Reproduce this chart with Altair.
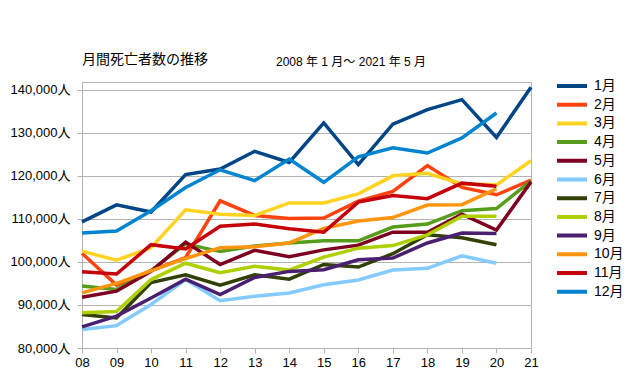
import altair as alt
import pandas as pd

years = ["08", "09", "10", "11", "12", "13", "14", "15", "16", "17", "18", "19", "20", "21"]
months = ["1月", "2月", "3月", "4月", "5月", "6月", "7月", "8月", "9月", "10月", "11月", "12月"]
colors = ["#004586", "#ff420e", "#ffd320", "#579d1c", "#7e0021", "#83caff",
          "#314004", "#aecf00", "#4b1f6f", "#ff950e", "#c5000b", "#0084d1"]

jan = [109300, 113250, 111600, 120300, 121600, 125700, 123100, 132300, 122600, 132000, 135400, 137700, 128900, 140600]
feb = [102000, 94600, 98000, 101000, 114200, 110800, 110100, 110200, 114100, 116400, 122400, 117300, 115600, 119000]
mar = [102500, 100400, 103300, 112100, 111100, 110800, 113700, 113700, 115800, 120000, 120600, 118100, 117900, 123500]
apr = [94400, 93600, 98000, 104200, 102400, 103700, 104400, 104900, 104900, 108100, 108800, 111900, 112400, 118800]
may = [91800, 93200, 97800, 104600, 99400, 102700, 101200, 102800, 103900, 106900, 106900, 111100, 107400, 118600]
jun = [84300, 85200, 90100, 95900, 91000, 92000, 92800, 94700, 95800, 98100, 98500, 101400, 99700, None]
jul = [87800, 87000, 95200, 97000, 94600, 97000, 96000, 99400, 98800, 101900, 106300, 105600, 104000, None]
aug = [88200, 88500, 95900, 99700, 97500, 99000, 98100, 101100, 103200, 103800, 106300, 110600, 110600, None]
sep = [84900, 87400, 91600, 96000, 92400, 96400, 97800, 98200, 100500, 100900, 104400, 106700, 106600, None]
oct_ = [92800, 95000, 97900, 100800, 103300, 103500, 104400, 107800, 109500, 110300, 113200, 113300, 117000, None]
nov = [97700, 97200, 104000, 103000, 108300, 108800, 107700, 106900, 113900, 115400, 114700, 118300, 117600, None]
dec = [106700, 107200, 111900, 117300, 121400, 118900, 123900, 118500, 124400, 126500, 125300, 128800, 134600, None]

series = [jan, feb, mar, apr, may, jun, jul, aug, sep, oct_, nov, dec]
y_ticks = [80000, 90000, 100000, 110000, 120000, 130000, 140000]

title_text = "月間死亡者数の推移"
subtitle_text = "2008 年 1 月～ 2021 年 5 月"

rows = []
for m, vals in zip(months, series):
    for yr, v in zip(years, vals):
        if v is not None:
            rows.append({"year": yr, "month": m, "deaths": v})
df = pd.DataFrame(rows)

FONT = "Liberation Sans, Noto Sans CJK JP"

lines = alt.Chart(df).mark_line(strokeWidth=3.5).encode(
    x=alt.X("year:O", sort=years,
            scale=alt.Scale(type="point", padding=0, domain=years),
            axis=alt.Axis(title=None, labelAngle=0, labelFontSize=13, labelPadding=3,
                          tickSize=5, grid=False)),
    y=alt.Y("deaths:Q",
            scale=alt.Scale(domain=[80000, 141800], nice=False, zero=False),
            axis=alt.Axis(title=None, values=y_ticks, grid=True, tickSize=5,
                          labelPadding=7, labelFontSize=13,
                          labelExpr="format(datum.value, ',') + '人'")),
    color=alt.Color("month:N", sort=months,
                    scale=alt.Scale(domain=months, range=colors),
                    legend=alt.Legend(title=None, orient="none", legendX=473, legendY=-4,
                                      symbolType="stroke", symbolSize=900,
                                      symbolStrokeWidth=4, labelFontSize=14,
                                      labelOffset=5, clipHeight=16, rowPadding=2.7,
                                      padding=0)),
    order=alt.Order("year:O"),
)

title_df = pd.DataFrame({"t": [title_text]})
sub_df = pd.DataFrame({"t": [subtitle_text]})

title_mark = alt.Chart(title_df).mark_text(
    align="left", baseline="middle", fontSize=14, font=FONT, color="#000000"
).encode(x=alt.value(0), y=alt.value(-22), text="t:N")

sub_mark = alt.Chart(sub_df).mark_text(
    align="left", baseline="middle", fontSize=12, font=FONT, color="#000000"
).encode(x=alt.value(194), y=alt.value(-20), text="t:N")

chart = alt.layer(lines, title_mark, sub_mark).properties(
    width=449, height=266,
    autosize=alt.AutoSizeParams(type="none"),
    padding={"left": 74, "top": 74, "right": 92, "bottom": 24},
    background="white",
).configure_view(
    stroke="#b3b3b3", strokeWidth=1
).configure_axis(
    domainColor="#b3b3b3", gridColor="#b3b3b3", tickColor="#b3b3b3",
    labelColor="#000000", labelFont=FONT
).configure_legend(
    labelFont=FONT, labelColor="#000000"
)

chart.save("out.html", embed_options={"renderer": "svg", "actions": False})
